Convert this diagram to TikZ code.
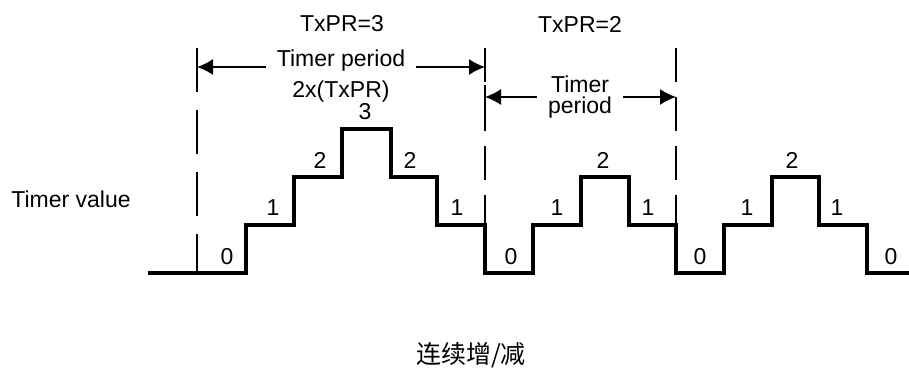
\documentclass[tikz,border=0pt]{standalone}
\usepackage{fontspec}
\setmainfont{Liberation Sans}
\newfontfamily\cjk{Noto Sans CJK SC}
\usepackage{tikz}
\usetikzlibrary{arrows.meta}

\begin{document}
\begin{tikzpicture}[x=1pt,y=-1pt,>={Latex[length=16pt,width=16pt]},
  every node/.style={font=\fontsize{23}{31}\selectfont,inner sep=0pt},
  wave/.style={line width=3.2pt,line join=miter},
  guide/.style={line width=1.6pt,dash pattern=on 44pt off 18pt},
  guideb/.style={line width=1.6pt,dash pattern=on 34pt off 15pt},
  dim/.style={line width=1.6pt,->}]
\useasboundingbox (0,0) rectangle (909,369);
% guide lines
\coordinate (g1) at (197,48);
\coordinate (g2) at (485,48);
\coordinate (g3) at (676,48);
\draw[guide] (g1) -- ++(0,225);
\draw[guideb] (g2) -- ++(0,177);
\draw[guideb] (g3) -- ++(0,177);
\draw[line width=1.6pt] (485,85) -- (485,131);
% labels
\node (tx3) at (342,24) {TxPR=3};
\node (tx2) at (580,24) {TxPR=2};
\node (tval) at (71,199) {Timer value};
\node[align=center,inner xsep=11pt] (per1) at (341,76.5) {Timer period\\2x(TxPR)};
\node[align=center,inner xsep=11pt,font=\fontsize{23}{21}\selectfont] (per2) at (580,97) {Timer\\period};
\coordinate (p1l) at (197,67);
\coordinate (p1r) at (485,67);
\coordinate (p2l) at (485,97);
\coordinate (p2r) at (676,97);
\draw[dim] (per1.west |- p1l) -- (p1l);
\draw[dim] (per1.east |- p1r) -- (p1r);
\draw[dim] (per2.west) -- (p2l);
\draw[dim] (per2.east) -- (p2r);
% timer value
\draw[wave] (148,273) -- (246,273) -- (246,225) -- (294,225) -- (294,177)
  -- (342,177) -- (342,129) -- (391,129) -- (391,177) -- (437,177)
  -- (437,225) -- (485,225) -- (485,273) -- (533,273) -- (533,225)
  -- (581,225) -- (581,177) -- (629,177) -- (629,225) -- (676,225)
  -- (676,273) -- (724,273) -- (724,225) -- (772,225) -- (772,177)
  -- (819,177) -- (819,225) -- (867,225) -- (867,273) -- (909,273);
\node (v0a) at (227,257) {0};
\node (v1a) at (273,208) {1};
\node (v2a) at (320,160) {2};
\node (v3a) at (365,112) {3};
\node (v2b) at (410,160) {2};
\node (v1b) at (457,208) {1};
\node (v0b) at (511,257) {0};
\node (v1c) at (557,208) {1};
\node (v2c) at (603,160) {2};
\node (v1d) at (648,208) {1};
\node (v0c) at (700,257) {0};
\node (v1e) at (747,208) {1};
\node (v2d) at (792,160) {2};
\node (v1f) at (837,208) {1};
\node (v0d) at (891,257) {0};
\node[font=\cjk\fontsize{25}{25}\selectfont] (cap) at (471,355) {连续增/减};
\end{tikzpicture}
\end{document}
